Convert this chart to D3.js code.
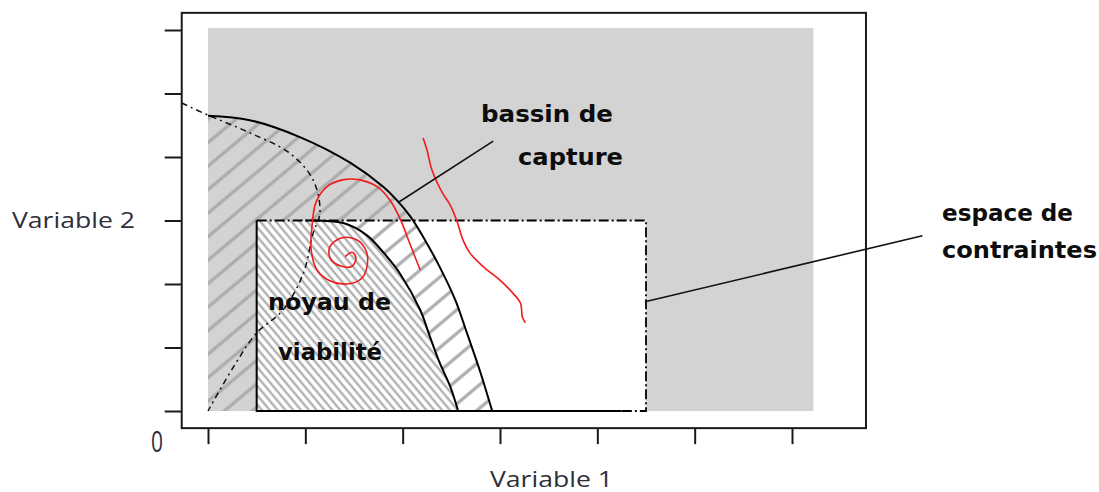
<!DOCTYPE html>
<html><head><meta charset="utf-8">
<script src="https://cdn.jsdelivr.net/npm/d3@7"></script>
<style>html,body{margin:0;padding:0;background:#fff;}svg{display:block;}</style>
</head><body>
<svg id="c" width="1099" height="492"></svg>
<script>
// ---- data (in chart units) ----
const xTicks = [0, 1, 2, 3, 4, 5, 6];
const yTicks = [0, 1, 2, 3, 4, 5, 6];
const constraintSpace = {x0: 0.5, x1: 4.5, y0: 0, y1: 3};
const stateSpace = {x0: 0, x1: 6.22, y0: 0, y1: 6.03};
const frameBox = {x0: -0.27, x1: 6.76, y0: -0.27, y1: 6.27};
// boundary of the capture basin
const captureBoundary = [[0,4.65],[0.43,4.58],[0.95,4.31],[1.46,3.91],[1.80,3.53],[1.94,3.32],[2.08,3.06],[2.23,2.69],[2.38,2.27],[2.54,1.75],[2.66,1.23],[2.79,0.65],[2.92,0]];
// boundary of the viability kernel
const kernelBoundary = [[1.0,3.0],[1.39,2.96],[1.63,2.77],[1.80,2.50],[1.97,2.17],[2.18,1.59],[2.28,1.17],[2.38,0.76],[2.49,0.38],[2.57,0]];
// dash-dot boundary
const dashedBoundary = [[-0.27,4.85],[0,4.66],[0.43,4.38],[0.84,4.06],[1.08,3.64],[1.15,3.12],[1.08,2.80],[0.98,2.17],[0.77,1.59],[0.50,1.23],[0.26,0.69],[0,0]];
// trajectories
const spiralTrajectory = [[1.41,2.43],[1.48,2.50],[1.52,2.41],[1.48,2.28],[1.37,2.28],[1.26,2.39],[1.25,2.58],[1.36,2.72],[1.51,2.71],[1.61,2.57],[1.64,2.35],[1.58,2.09],[1.43,2.00],[1.25,2.05],[1.12,2.22],[1.06,2.54],[1.07,2.93],[1.11,3.29],[1.22,3.53],[1.38,3.64],[1.56,3.64],[1.74,3.53],[1.87,3.32],[1.97,3.04],[2.08,2.61],[2.18,2.22]];
const escapingTrajectory = [[2.21,4.30],[2.25,4.11],[2.30,3.80],[2.41,3.43],[2.49,3.24],[2.56,2.98],[2.62,2.69],[2.69,2.49],[2.83,2.27],[3.00,2.06],[3.13,1.86],[3.21,1.70],[3.23,1.48],[3.26,1.39]];
// annotation leader lines
const basinLeader = [[1.95,3.28],[2.93,4.25]];
const constraintLeader = [[4.49,1.72],[7.34,2.76]];

// ---- scales ----
const x = d3.scaleLinear().domain([0, 6]).range([208, 792]);
const y = d3.scaleLinear().domain([0, 6]).range([411, 30]);

const svg = d3.select("#c");
const defs = svg.append("defs");
const pA = defs.append("pattern").attr("id","hatchBasin").attr("patternUnits","userSpaceOnUse")
  .attr("width",18).attr("height",18).attr("patternTransform","rotate(-40)");
pA.append("line").attr("x1",0).attr("x2",18).attr("y1",9).attr("y2",9).attr("stroke","#ababab").attr("stroke-width",3.2);
const pB = defs.append("pattern").attr("id","hatchKernel").attr("patternUnits","userSpaceOnUse")
  .attr("width",6).attr("height",6).attr("patternTransform","rotate(50)");
pB.append("rect").attr("width",6).attr("height",6).attr("fill","#fff");
pB.append("line").attr("x1",0).attr("x2",6).attr("y1",3).attr("y2",3).attr("stroke","#b0b0b0").attr("stroke-width",2.4);

const line = d3.line().x(d => x(d[0])).y(d => y(d[1])).curve(d3.curveCatmullRom.alpha(0.5));
const straight = d3.line().x(d => x(d[0])).y(d => y(d[1]));

// state space (gray)
svg.append("rect").attr("x", x(stateSpace.x0)).attr("y", y(stateSpace.y1))
  .attr("width", x(stateSpace.x1) - x(stateSpace.x0)).attr("height", y(stateSpace.y0) - y(stateSpace.y1))
  .attr("fill", "#d3d3d3");
// constraint space (white)
svg.append("rect").attr("x", x(constraintSpace.x0)).attr("y", y(constraintSpace.y1))
  .attr("width", x(constraintSpace.x1) - x(constraintSpace.x0)).attr("height", y(constraintSpace.y0) - y(constraintSpace.y1))
  .attr("fill", "#fff");

// capture basin hatched region
const basinPath = `M${x(0)},${y(0)}L` + line(captureBoundary).slice(1) + "Z";
svg.append("path").attr("d", basinPath).attr("fill", "url(#hatchBasin)");
// kernel region
const kernelPath = `M${x(constraintSpace.x0)},${y(0)}L${x(constraintSpace.x0)},${y(constraintSpace.y1)}L` + line(kernelBoundary).slice(1) + "Z";
svg.append("path").attr("d", kernelPath).attr("fill", "url(#hatchKernel)");

// dashed boundary
svg.append("path").attr("d", line(dashedBoundary)).attr("fill","none").attr("stroke","#111")
  .attr("stroke-width",1.5).attr("stroke-dasharray","6,4,2,4");
// curves
svg.append("path").attr("d", line(captureBoundary)).attr("fill","none").attr("stroke","#000").attr("stroke-width",2);
svg.append("path").attr("d", line(kernelBoundary)).attr("fill","none").attr("stroke","#000").attr("stroke-width",2);

// constraint rectangle edges
const cs = constraintSpace;
svg.append("path").attr("d", straight([[cs.x0,cs.y1],[cs.x0,cs.y0],[4.25,cs.y0]])).attr("fill","none").attr("stroke","#000").attr("stroke-width",2);
svg.append("path").attr("d", straight([[cs.x0,cs.y1],[cs.x1,cs.y1],[cs.x1,cs.y0],[4.25,cs.y0]])).attr("fill","none")
  .attr("stroke","#000").attr("stroke-width",1.8).attr("stroke-dasharray","10,3,2,3");

// trajectories
svg.append("path").attr("d", line(spiralTrajectory)).attr("fill","none").attr("stroke","#f21b1b").attr("stroke-width",1.6);
svg.append("path").attr("d", line(escapingTrajectory)).attr("fill","none").attr("stroke","#f21b1b").attr("stroke-width",1.6);

// leaders
svg.append("path").attr("d", straight(basinLeader)).attr("stroke","#111").attr("stroke-width",1.6).attr("fill","none");
svg.append("path").attr("d", straight(constraintLeader)).attr("stroke","#111").attr("stroke-width",1.6).attr("fill","none");

// frame
svg.append("rect").attr("x", x(frameBox.x0)).attr("y", y(frameBox.y1))
  .attr("width", x(frameBox.x1) - x(frameBox.x0)).attr("height", y(frameBox.y0) - y(frameBox.y1))
  .attr("fill","none").attr("stroke","#1a1a1a").attr("stroke-width",2);

// axes
const yAxis = svg.append("g").attr("transform", `translate(${x(frameBox.x0)},0)`)
  .call(d3.axisLeft(y).tickValues(yTicks).tickSize(17).tickFormat(""));
const xAxis = svg.append("g").attr("transform", `translate(0,${y(frameBox.y0)})`)
  .call(d3.axisBottom(x).tickValues(xTicks).tickSize(16).tickFormat(""));
[yAxis, xAxis].forEach(g => { g.select(".domain").remove(); g.selectAll("line").attr("stroke","#1a1a1a").attr("stroke-width",2); });

// texts
const bold = "DejaVu Sans, Verdana, sans-serif";
function label(t, px, py, w, opts = {}) {
  svg.append("text").attr("x", px).attr("y", py).text(t)
    .attr("font-family", opts.family || bold).attr("font-weight", opts.weight || "bold")
    .attr("font-size", opts.size || 23.5).attr("fill", opts.fill || "#0d0d0d")
    .attr("textLength", w).attr("lengthAdjust", opts.adj || "spacingAndGlyphs");
}
label("bassin de", 481, 122, 132);
label("capture", 518, 165, 105);
label("espace de", 942, 221, 131);
label("contraintes", 942, 258, 155);
label("noyau de", 268, 310, 123);
label("viabilité", 278, 360, 104);
label("Variable 2", 12, 228, 123, {family: "Open Sans, sans-serif", weight: "normal", size: 22, fill: "#2f2f3a"});
label("Variable 1", 490, 487, 123, {family: "Open Sans, sans-serif", weight: "normal", size: 22, fill: "#2f2f3a"});
label("0", 151, 452, 12, {family: "Open Sans, sans-serif", weight: "normal", size: 29, fill: "#2f2f3a"});
</script>
</body></html>
